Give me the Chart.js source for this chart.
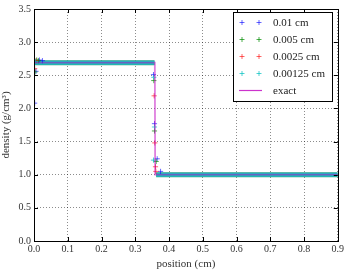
<!DOCTYPE html>
<html>
<head>
<meta charset="utf-8">
<script src="https://cdn.jsdelivr.net/npm/chart.js@4"></script>
<style>
  html, body { margin: 0; padding: 0; background: #fff; }
  #wrap { width: 346px; height: 271px; }
</style>
</head>
<body>
<div id="wrap"><canvas id="densityChart" width="346" height="271"></canvas></div>
<script>
// resolution labels
const resolutions = ["0.01 cm", "0.005 cm", "0.0025 cm", "0.00125 cm"];
const seriesColors = ["rgba(0,0,255,0.6)", "rgba(0,140,0,0.7)", "rgba(255,0,0,0.6)", "rgba(0,191,191,0.7)"];

// numerical points that stand out from the plateaus (boundary and shock)
const positions01 = [0.002, 0.006, 0.016, 0.025, 0.354, 0.357, 0.365, 0.375];
const density01 = [2.08, 2.56, 2.73, 2.72, 2.51, 1.77, 1.24, 1.05];
const positions005 = [0.003, 0.008, 0.013, 0.355, 0.357, 0.362];
const density005 = [2.55, 2.73, 2.72, 2.42, 1.66, 1.20];
const positions0025 = [0.002, 0.006, 0.356, 0.358, 0.360, 0.361];
const density0025 = [2.60, 2.72, 2.19, 1.48, 1.12, 1.05];
const positions00125 = [0.001, 0.004, 0.355, 0.357, 0.354];
const density00125 = [2.70, 2.71, 2.47, 1.72, 1.22];

// plateau band covered by the dense markers
const bandPositions = [0, 0.357, 0.3595, 0.362, 0.9];
const bandDensity = [2.69, 2.69, null, 1.0, 1.0];

// exact solution
const exactPositions = [0, 0.358, 0.359, 0.9];
const exactDensity = [2.69, 2.69, 1.0, 1.0];

// axis ticks
const xTicks = [0, 0.1, 0.2, 0.3, 0.4, 0.5, 0.6, 0.7, 0.8, 0.9];
const yTicks = [0, 0.5, 1.0, 1.5, 2.0, 2.5, 3.0, 3.5];

const serif = "'Liberation Serif', serif";

function pts(xs, ys) {
    return xs.map((x, i) => ({ x: x, y: ys[i] }));
}

const numPositions = [positions01, positions005, positions0025, positions00125];
const numDensity = [density01, density005, density0025, density00125];

const datasets = [];
resolutions.forEach((label, i) => {
    datasets.push({
        label: label,
        data: pts(numPositions[i], numDensity[i]),
        showLine: false,
        pointStyle: "cross",
        pointRadius: 2.6,
        pointBorderWidth: 1,
        borderColor: seriesColors[i],
        backgroundColor: seriesColors[i],
        order: 5 - i
    });
});
// dense marker band (green peeking under cyan)
datasets.push({
    label: "band-g",
    data: pts(bandPositions, bandDensity),
    showLine: true,
    spanGaps: false,
    pointRadius: 0,
    borderWidth: 5,
    borderColor: "rgb(60,160,130)",
    order: 8
});
datasets.push({
    label: "band-c",
    data: pts(bandPositions, bandDensity),
    showLine: true,
    spanGaps: false,
    pointRadius: 0,
    borderWidth: 4,
    borderColor: "rgb(25,192,192)",
    order: 7
});
datasets.push({
    label: "exact",
    data: pts(exactPositions, exactDensity),
    showLine: true,
    pointRadius: 0,
    borderWidth: 1.8,
    borderColor: "rgba(191,0,191,0.5)",
    order: 0
});

// frame, inward ticks and legend (matplotlib classic look)
const framePlugin = {
    id: "frame",
    afterDraw(chart) {
        const ctx = chart.ctx;
        const a = chart.chartArea;
        const xs = chart.scales.x, ys = chart.scales.y;
        ctx.save();
        ctx.strokeStyle = "#000";
        ctx.lineWidth = 1;
        ctx.beginPath();
        xTicks.forEach(v => {
            const p = Math.round(xs.getPixelForValue(v)) + 0.5;
            ctx.moveTo(p, a.bottom); ctx.lineTo(p, a.bottom - 4);
            ctx.moveTo(p, a.top); ctx.lineTo(p, a.top + 4);
        });
        yTicks.forEach(v => {
            const p = Math.round(ys.getPixelForValue(v)) + 0.5;
            ctx.moveTo(a.left, p); ctx.lineTo(a.left + 4, p);
            ctx.moveTo(a.right, p); ctx.lineTo(a.right - 4, p);
        });
        ctx.stroke();
        ctx.strokeRect(Math.round(a.left) + 0.5, Math.round(a.top) + 0.5,
            Math.round(a.right - a.left), Math.round(a.bottom - a.top));

        // legend
        const lx = 233.5, ly = 12.5, lw = 99, lh = 89;
        ctx.fillStyle = "#fff";
        ctx.fillRect(lx, ly, lw, lh);
        ctx.strokeRect(lx, ly, lw, lh);
        ctx.font = "11px " + serif;
        ctx.textBaseline = "middle";
        ctx.textAlign = "left";
        const rows = resolutions.concat(["exact"]);
        rows.forEach((label, i) => {
            const y = 22.5 + i * 17;
            if (i < resolutions.length) {
                ctx.strokeStyle = seriesColors[i];
                ctx.beginPath();
                [242, 259].forEach(x => {
                    ctx.moveTo(x - 2.5, y); ctx.lineTo(x + 2.5, y);
                    ctx.moveTo(x, y - 2.5); ctx.lineTo(x, y + 2.5);
                });
                ctx.stroke();
            } else {
                ctx.strokeStyle = "rgba(191,0,191,0.8)";
                ctx.lineWidth = 1.2;
                ctx.beginPath();
                ctx.moveTo(239, y); ctx.lineTo(262, y);
                ctx.stroke();
            }
            ctx.fillStyle = "#222";
            ctx.fillText(label, 273, y + 0.5);
        });
        ctx.restore();
    }
};

function draw() {
    new Chart(document.getElementById("densityChart"), {
        type: "scatter",
        data: { datasets: datasets },
        options: {
            responsive: false,
            animation: false,
            layout: { padding: { left: 0, right: 7, top: 6, bottom: 0 } },
            plugins: { legend: { display: false }, tooltip: { enabled: false } },
            scales: {
                x: {
                    type: "linear",
                    min: 0, max: 0.9,
                    afterFit: s => { s.height = 30; },
                    afterBuildTicks: s => { s.ticks = xTicks.map(v => ({ value: v })); },
                    ticks: {
                        callback: v => v.toFixed(1),
                        padding: 2,
                        maxRotation: 0,
                        color: "#333",
                        font: { family: serif, size: 10 }
                    },
                    grid: { color: "rgba(0,0,0,0.45)", lineWidth: 1, drawTicks: false },
                    border: { display: false, dash: [1, 2] },
                    title: {
                        display: true,
                        text: "position (cm)",
                        color: "#333",
                        padding: { top: 0, bottom: 0 },
                        font: { family: serif, size: 11 }
                    }
                },
                y: {
                    type: "linear",
                    min: 0, max: 3.5,
                    afterFit: s => { s.width = 34; },
                    afterBuildTicks: s => { s.ticks = yTicks.map(v => ({ value: v })); },
                    ticks: {
                        callback: v => v.toFixed(1),
                        padding: 3,
                        color: "#333",
                        font: { family: serif, size: 10 }
                    },
                    grid: { color: "rgba(0,0,0,0.45)", lineWidth: 1, drawTicks: false },
                    border: { display: false, dash: [1, 2] },
                    title: {
                        display: true,
                        text: "density (g/cm³)",
                        color: "#333",
                        padding: { top: 0, bottom: 0 },
                        font: { family: serif, size: 11 }
                    }
                }
            }
        },
        plugins: [framePlugin]
    });
}

document.fonts.load("11px 'Liberation Serif'").then(draw, draw);
</script>
</body>
</html>
